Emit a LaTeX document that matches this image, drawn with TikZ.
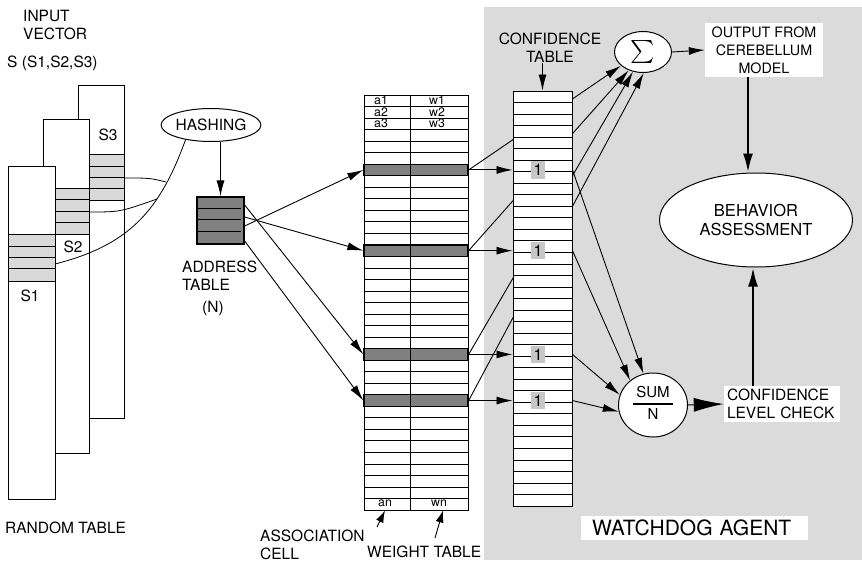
\documentclass[tikz,border=0pt]{standalone}
\usepackage{fontspec}
\setmainfont{TeX Gyre Heros}
\usetikzlibrary{arrows.meta,shapes.geometric}

\tikzset{
  txt/.style={inner sep=0pt,font=\fontsize{15.5}{18}\selectfont,align=left},
  cell/.style={inner sep=0pt,font=\fontsize{12.3}{12.3}\selectfont},
  band/.style={draw,line width=1pt,fill=black!15},
  darkrow/.style={draw,line width=1.3pt,fill=black!50,minimum width=104pt,minimum height=11.5pt,inner sep=0pt},
  onebox/.style={fill=black!22,inner xsep=2.5pt,inner ysep=3pt,font=\fontsize{16}{16}\selectfont},
  arr/.style={line width=0.9pt,-{Latex[length=16pt,width=8pt]}},
  fatarr/.style={line width=2.4pt,-{Latex[length=19pt,width=10pt]}},
}

\begin{document}
\begin{tikzpicture}[x=1pt,y=-1pt]
\useasboundingbox (0,0) rectangle (862,562);
% grey panel
\fill[black!14] (484,7) rectangle (862,560);

% input vector and random table
\node[txt,anchor=west] (inp) at (23,25) {INPUT\\VECTOR};
\node[txt,anchor=west] (svec) at (7,63) {S (S1,S2,S3)};
\draw[line width=1pt,fill=white] (78,85) rectangle (124,418);
\draw[line width=1pt,fill=white] (43,119) rectangle (89,453);
\draw[line width=1pt,fill=white] (8,166) rectangle (55,499);
\draw[band] (89,154) rectangle (124,200);
\foreach \y in {166,177,188} \draw[line width=0.9pt] (89,\y) -- (124,\y);
\draw[band] (55,188) rectangle (89,234);
\foreach \y in {199,211,222} \draw[line width=0.9pt] (55,\y) -- (89,\y);
\draw[band] (8,234) rectangle (55,281);
\foreach \y in {246,257,268} \draw[line width=0.9pt] (8,\y) -- (55,\y);
\node[txt] (s3) at (108,135) {S3};
\node[txt] (s2) at (73,247) {S2};
\node[txt] (s1) at (30,296) {S1};
\node[txt,anchor=west] (rnd) at (5,528) {RANDOM TABLE};

% hashing
\node[draw,ellipse,line width=1pt,fill=white,minimum width=84pt,minimum height=33pt,inner sep=0pt,font=\fontsize{15.5}{18}\selectfont] (hash) at (211,125) {HASHING};
\coordinate (b1) at (55,264);
\coordinate (b2) at (89,212);
\coordinate (b3) at (124,178);
\draw[line width=0.8pt] (hash.210) .. controls (160,210) and (130,245) .. (b1);
\draw[line width=0.8pt] (b3) .. controls (150,178) .. (166,182);
\draw[line width=0.8pt] (b2) .. controls (120,212) .. (157,199);

% address table
\node[draw,line width=1.3pt,fill=black!50,minimum size=47pt,inner sep=0pt] (addr) at (220.5,220.5) {};
\foreach \y in {208,219.5,231} \draw[line width=1pt] (197,\y) -- (241,\y);
\draw[arr] (hash.south -| addr.north) -- (addr.north);
\node[txt,anchor=west] (addrlbl) at (182,276) {ADDRESS\\TABLE};
\node[txt] (addrn) at (213,308) {(N)};

% association cells and weight table
\def\rh{11.53}
\draw[line width=1pt] (364,95) rectangle (468,510);
\foreach \i in {1,...,35} \draw[line width=0.9pt] (364,{95+\i*\rh}) -- (468,{95+\i*\rh});
\node[darkrow] (r1) at (416,{95+6.5*\rh}) {};
\node[darkrow] (r2) at (416,{95+13.5*\rh}) {};
\node[darkrow] (r3) at (416,{95+22.5*\rh}) {};
\node[darkrow] (r4) at (416,{95+26.5*\rh}) {};
\draw[line width=1pt] (410,95) -- (410,510);
\node[cell] (a1) at (381,100.5) {a1};
\node[cell] (a2) at (381,112) {a2};
\node[cell] (a3) at (381,123.5) {a3};
\node[cell] (w1) at (437,100.5) {w1};
\node[cell] (w2) at (437,112) {w2};
\node[cell] (w3) at (437,123.5) {w3};
\node[cell] (an) at (385,503.5) {an};
\node[cell] (wn) at (439,503.5) {wn};

\draw[arr] ([yshift=-5.5pt]addr.east) -- (r1.west);
\draw[arr] ([yshift=3.5pt]addr.east) -- (r2.west);
\draw[arr] ([yshift=15.5pt]addr.east) -- (r3.west);
\draw[arr] ([yshift=-20.5pt]addr.east) -- (r4.west);

\node[txt,anchor=west] (acell) at (260,545) {ASSOCIATION\\CELL};
\node[txt,anchor=west] (wtab) at (367,552) {WEIGHT TABLE};
\coordinate (atail) at (377,527);
\coordinate (wtail) at (435,538);
\draw[line width=0.9pt,-{Latex[length=12pt,width=8pt]}] (atail) -- (385,510.5);
\draw[line width=0.9pt,-{Latex[length=12pt,width=8pt]}] (wtail) -- (443,510.5);

% summation
\node[draw,ellipse,line width=1pt,fill=white,minimum width=57pt,minimum height=41pt,inner sep=0pt] (sig) at (643,52) {\scalebox{2.3}{$\sum$}};
\draw[arr] (r1.east) -- (sig.212);
\draw[arr] (r2.east) -- (sig.232);
\draw[arr] (r3.east) -- (sig.243);
\draw[arr] (r4.east) -- (sig.272);

% confidence table
\node[draw,line width=1pt,fill=white,minimum width=59pt,minimum height=415pt,inner sep=0pt] (conf) at (542.5,298.5) {};
\foreach \i in {1,...,35} \draw[line width=0.9pt] (513,{91+\i*\rh}) -- (572,{91+\i*\rh});
\node[onebox] (c1) at (r1 -| 538,0) {1};
\node[onebox] (c2) at (r2 -| 538,0) {1};
\node[onebox] (c3) at (r3 -| 538,0) {1};
\node[onebox] (c4) at (r4 -| 538,0) {1};
\foreach \r in {r1,r2,r3,r4} \draw[arr] (\r.east) -- (\r -| conf.west);
\node[txt,align=center] (clbl) at (550,48) {CONFIDENCE\\TABLE};
\draw[arr] (clbl.south -| conf.north) -- (conf.north);

% sum over N
\node[draw,ellipse,line width=1pt,fill=white,minimum width=69pt,minimum height=64pt,inner sep=0pt,font=\fontsize{15}{17}\selectfont] (sumn) at (653,405)
  {\setlength{\arrayrulewidth}{1.6pt}\setlength{\tabcolsep}{3pt}\begin{tabular}{c}SUM\\[1pt]\hline\rule{0pt}{15pt}N\end{tabular}};
\draw[arr] (c1 -| conf.east) -- (sumn.107);
\draw[arr] (c2 -| conf.east) -- (sumn.133);
\draw[arr] (c3 -| conf.east) -- (sumn.163);
\draw[arr] (c4 -| conf.east) -- (sumn.191);

% outputs and assessment
\node[txt,align=center,fill=white,minimum width=118pt,minimum height=54pt,font=\fontsize{14.3}{18}\selectfont] (out) at (764,50) {OUTPUT FROM\\CEREBELLUM\\MODEL};
\draw[arr] (sig.east) -- (out.west);
\node[draw,ellipse,line width=1pt,fill=white,minimum width=193pt,minimum height=94pt,inner sep=0pt,align=center,font=\fontsize{16.5}{19}\selectfont] (beh) at (756,220) {BEHAVIOR\\ASSESSMENT};
\draw[fatarr] ([xshift=-16pt]out.south) -- ([xshift=-16pt]out.south |- beh.north);
\node[txt,fill=white,minimum height=36pt,text width=110pt,inner xsep=3pt] (chk) at (782,404) {CONFIDENCE\\LEVEL CHECK};
\draw[line width=1pt,-{Latex[length=30pt,width=14pt]}] (sumn.east) -- (chk.west);
\draw[fatarr] ([xshift=-29pt]chk.north) -- ([xshift=-29pt]chk.north |- beh.south);

\node[fill=white,minimum height=24pt,text width=205pt,inner xsep=11pt,inner ysep=0pt,font=\fontsize{21}{21}\selectfont] (wd) at (694.5,528) {WATCHDOG AGENT};
\end{tikzpicture}
\end{document}
